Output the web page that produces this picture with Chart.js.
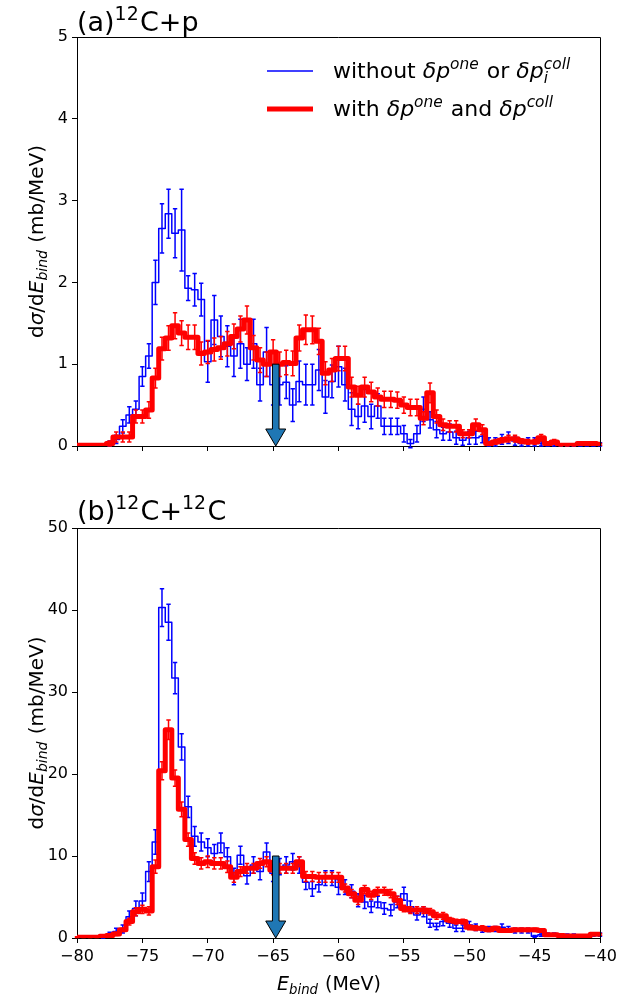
<!DOCTYPE html>
<html><head><meta charset="utf-8">
<script src="https://cdn.jsdelivr.net/npm/chart.js@4.4.1/dist/chart.umd.min.js"></script>
<style>
html,body{margin:0;padding:0;background:#fff;}
#wrap{position:relative;width:644px;height:998px;background:#fff;}
canvas{position:absolute;left:0;}
</style></head><body>
<div id="wrap">
<canvas id="ca" width="644" height="480" style="top:0"></canvas>
<canvas id="cb" width="644" height="518" style="top:480px"></canvas>
</div>
<script>
// bin centres (MeV)
const energies = [-80,-79.5,-79,-78.5,-78,-77.5,-77,-76.5,-76,-75.5,-75,-74.5,-74,-73.5,-73,-72.5,-72,-71.5,-71,-70.5,
 -70,-69.5,-69,-68.5,-68,-67.5,-67,-66.5,-66,-65.5,-65,-64.5,-64,-63.5,-63,-62.5,-62,-61.5,-61,-60.5,
 -60,-59.5,-59,-58.5,-58,-57.5,-57,-56.5,-56,-55.5,-55,-54.5,-54,-53.5,-53,-52.5,-52,-51.5,-51,-50.5,
 -50,-49.5,-49,-48.5,-48,-47.5,-47,-46.5,-46,-45.5,-45,-44.5,-44,-43.5,-43,-42.5,-42,-41.5,-41,-40.5,-40];
const xTicks = [-80,-75,-70,-65,-60,-55,-50,-45,-40];
const yTicksA = [0,1,2,3,4,5];
const yTicksB = [0,10,20,30,40,50];
const arrowE = -64.8;

// (a) 12C+p
const blueA = [0,0,0,0,0, 0.03,0.08,0.24,0.38,0.45, 0.85,1.1,2.0,2.66,2.84, 2.6,2.64,1.93,1.91,1.79,
 1.03,1.54,1.34,1.22,1.1, 1.25,1.0,1.25,0.75,1.15, 0.75,0.75,0.78,0.5,0.79, 0.75,0.75,0.93,0.6,0.79,
 0.97,0.75,0.45,0.36,0.49, 0.36,0.49,0.24,0.24,0.24, 0.15,0.03,0.15,0.45,0.32, 0.2,0.15,0.17,0.1,0.07,
 0.1,0.1,0.12,0.05,0.05, 0.08,0.1,0.06,0.03,0.05, 0.05,0.03,0.02,0.02,0.01, 0.01,0.01,0.02,0.02,0.02,0.02];
const blueAErr = [0,0,0,0,0, 0.03,0.05,0.08,0.1,0.1, 0.12,0.15,0.27,0.3,0.3, 0.3,0.5,0.15,0.2,0.2,
 0.25,0.3,0.25,0.25,0.25, 0.3,0.2,0.3,0.2,0.3, 0.25,0.25,0.2,0.2,0.25, 0.25,0.25,0.25,0.2,0.2,
 0.25,0.2,0.2,0.15,0.2, 0.15,0.15,0.1,0.1,0.1, 0.1,0.05,0.1,0.15,0.1, 0.1,0.08,0.1,0.08,0.06,
 0.08,0.08,0.08,0.05,0.05, 0.06,0.07,0.05,0.03,0.05, 0.05,0.03,0.02,0.02,0.01, 0.01,0.01,0.02,0.02,0.02,0.02];
const redA = [0.01,0.01,0.01,0.01,0.01, 0.03,0.11,0.11,0.11,0.36, 0.36,0.44,0.83,1.19,1.32, 1.47,1.38,1.33,1.33,1.13,
 1.15,1.18,1.2,1.25,1.34, 1.43,1.54,1.2,1.05,1.0, 1.15,1.0,1.02,1.01,1.32, 1.42,1.42,1.28,0.89,0.93,
 1.07,1.07,0.72,0.62,0.72, 0.66,0.6,0.57,0.57,0.56, 0.5,0.47,0.47,0.34,0.65, 0.36,0.26,0.24,0.24,0.15,
 0.15,0.26,0.2,0.03,0.05, 0.07,0.09,0.09,0.06,0.05, 0.05,0.1,0.03,0.05,0.01, 0.01,0.01,0.03,0.03,0.03,0.02];
const redAErr = [0,0,0,0,0, 0.03,0.06,0.06,0.06,0.08, 0.08,0.1,0.12,0.14,0.15, 0.16,0.15,0.15,0.15,0.14,
 0.14,0.14,0.14,0.15,0.15, 0.16,0.17,0.15,0.15,0.15, 0.15,0.15,0.15,0.15,0.16, 0.18,0.17,0.16,0.14,0.14,
 0.15,0.15,0.12,0.11,0.12, 0.12,0.11,0.1,0.1,0.1, 0.1,0.1,0.1,0.08,0.12, 0.08,0.07,0.07,0.07,0.05,
 0.05,0.07,0.06,0.02,0.03, 0.03,0.04,0.04,0.03,0.03, 0.03,0.04,0.02,0.03,0.01, 0.01,0.01,0.02,0.02,0.02,0.01];

// (b) 12C+12C
const blueB = [0,0,0,0,0.2, 0.4,0.8,1.1,2.6,3.6, 4.5,8.1,11.7,40.3,38.5, 31.7,23.3,16.0,12.4,11.7,
 11.0,10.3,11.6,9.9,7.5, 10.1,7.6,8.9,8.1,10.5, 7.9,8.7,8.9,9.3,8.9, 6.8,6.0,6.5,7.3,7.3,
 6.2,6.2,5.7,4.6,4.4, 3.8,4.4,3.6,3.4,4.4, 5.4,3.8,2.8,3.2,1.8, 1.4,2.0,1.8,1.2,1.2,
 1.6,1.3,1.0,1.1,1.1, 1.3,1.1,0.9,0.9,0.9, 0.2,0.4,0.4,0.4,0.3, 0.3,0.3,0.2,0.2,0.4,0.4];
const blueBErr = [0,0,0,0,0.2, 0.3,0.4,0.5,0.7,0.9, 1.0,1.2,1.5,2.3,2.2, 1.9,1.6,1.3,1.2,1.1,
 1.1,1.1,1.2,1.1,1.0, 1.1,1.0,1.0,1.0,1.1, 1.0,1.0,1.0,1.0,1.0, 0.9,0.9,0.9,0.9,0.9,
 0.9,0.9,0.8,0.8,0.8, 0.7,0.7,0.7,0.7,0.7, 0.8,0.7,0.6,0.6,0.5, 0.4,0.5,0.5,0.4,0.4,
 0.4,0.4,0.3,0.3,0.3, 0.4,0.3,0.3,0.3,0.3, 0.1,0.2,0.2,0.2,0.2, 0.2,0.2,0.1,0.1,0.2,0.2];
const redB = [0.1,0.1,0.1,0.1,0.2, 0.3,0.5,1.0,2.0,3.2, 3.5,3.3,8.7,20.4,25.4, 19.5,15.7,12.0,9.7,9.1,
 9.3,9.1,9.1,8.7,7.4, 8.1,8.5,8.5,9.1,9.3, 8.3,8.5,8.5,8.5,9.3, 7.5,7.5,7.4,7.4,7.4,
 7.4,6.1,5.4,4.6,5.9, 5.2,5.7,5.7,5.4,4.6, 3.6,3.4,3.4,3.4,3.2, 2.7,2.7,2.2,2.0,2.0,
 1.3,1.2,1.2,1.0,1.2, 0.9,0.9,1.0,1.0,1.0, 1.0,0.9,0.4,0.4,0.3, 0.25,0.25,0.25,0.25,0.45,0.45];
const redBErr = [0.05,0.05,0.05,0.05,0.1, 0.15,0.2,0.2,0.4,0.5, 0.5,0.5,0.8,1.1,1.2, 1.0,0.9,0.8,0.7,0.7,
 0.7,0.7,0.7,0.7,0.6, 0.6,0.6,0.6,0.6,0.6, 0.6,0.6,0.6,0.6,0.6, 0.6,0.6,0.6,0.6,0.6,
 0.6,0.5,0.5,0.5,0.5, 0.5,0.5,0.5,0.5,0.5, 0.4,0.4,0.4,0.4,0.4, 0.4,0.4,0.3,0.3,0.3,
 0.3,0.3,0.3,0.2,0.2, 0.2,0.2,0.2,0.2,0.2, 0.2,0.2,0.1,0.1,0.1, 0.1,0.1,0.1,0.1,0.1,0.1];

const FONT = '"DejaVu Sans"';
function rich(ctx, segs, x0, y0, size, draw) {
  let x = x0;
  for (const s of segs) {
    if (s.t !== undefined) {
      ctx.font = (s.it ? 'italic ' : '') + size + 'px ' + FONT;
      if (draw) ctx.fillText(s.t, x, y0);
      x += ctx.measureText(s.t).width;
    } else {
      const ss = size * 0.7;
      ctx.font = (s.rm ? '' : 'italic ') + ss + 'px ' + FONT;
      let w = 0;
      if (s.sup) { if (draw) ctx.fillText(s.sup, x, y0 - size * 0.42); w = Math.max(w, ctx.measureText(s.sup).width); }
      if (s.sub) { if (draw) ctx.fillText(s.sub, x, y0 + size * 0.22); w = Math.max(w, ctx.measureText(s.sub).width); }
      x += w + size * 0.05;
    }
  }
  return x - x0;
}

const errorBars = {
  id: 'errorBars',
  afterDatasetDraw(chart, args) {
    const ds = chart.data.datasets[args.index];
    if (!ds.errs) return;
    const ctx = chart.ctx, xs = chart.scales.x, ys = chart.scales.y;
    ctx.save();
    ctx.strokeStyle = ds.borderColor;
    ctx.lineWidth = 1.5;
    ds.data.forEach((p, i) => {
      const e = ds.errs[i];
      if (!e) return;
      const px = xs.getPixelForValue(p.x);
      if (px < chart.chartArea.left - 1 || px > chart.chartArea.right + 1) return;
      const y1 = ys.getPixelForValue(p.y - e), y2 = ys.getPixelForValue(p.y + e);
      ctx.beginPath();
      ctx.moveTo(px, y1); ctx.lineTo(px, y2);
      ctx.moveTo(px - 2.2, y1); ctx.lineTo(px + 2.2, y1);
      ctx.moveTo(px - 2.2, y2); ctx.lineTo(px + 2.2, y2);
      ctx.stroke();
    });
    ctx.restore();
  }
};

const decor = {
  id: 'decor',
  afterDatasetsDraw(chart, args, o) {
    const ctx = chart.ctx, xs = chart.scales.x, ys = chart.scales.y;
    const xp = xs.getPixelForValue(arrowE);
    const yTop = ys.getPixelForValue(o.arrowTop), yTip = ys.getPixelForValue(0);
    const sh = 3.3, hh = 10, hl = 17;
    ctx.save();
    ctx.beginPath();
    ctx.moveTo(xp - sh, yTop); ctx.lineTo(xp + sh, yTop); ctx.lineTo(xp + sh, yTip - hl);
    ctx.lineTo(xp + hh, yTip - hl); ctx.lineTo(xp, yTip); ctx.lineTo(xp - hh, yTip - hl);
    ctx.lineTo(xp - sh, yTip - hl); ctx.closePath();
    ctx.fillStyle = '#1f77b4'; ctx.fill();
    ctx.strokeStyle = '#000'; ctx.lineWidth = 1; ctx.stroke();
    ctx.restore();
  },
  afterDraw(chart, args, o) {
    const ctx = chart.ctx, a = chart.chartArea;
    ctx.save();
    ctx.strokeStyle = '#000'; ctx.lineWidth = 1;
    ctx.beginPath();
    ctx.moveTo(a.left, a.top + 0.5); ctx.lineTo(a.right + 0.5, a.top + 0.5); ctx.lineTo(a.right + 0.5, a.bottom);
    ctx.stroke();
    ctx.fillStyle = '#000'; ctx.textBaseline = 'alphabetic';
    rich(ctx, o.title, 77, o.titleY, 27, true);
    const ylab = [{t:'d'},{t:'σ',it:true},{t:'/d'},{t:'E',it:true},{sub:'bind'},{t:' (mb/MeV)'}];
    const wy = rich(ctx, ylab, 0, 0, 20, false);
    ctx.save();
    ctx.translate(43, (a.top + a.bottom) / 2);
    ctx.rotate(-Math.PI / 2);
    rich(ctx, ylab, -wy / 2, 0, 20, true);
    ctx.restore();
    if (o.legend) {
      ctx.lineCap = 'butt';
      ctx.strokeStyle = '#0000ff'; ctx.lineWidth = 1.5;
      ctx.beginPath(); ctx.moveTo(267, 71); ctx.lineTo(313, 71); ctx.stroke();
      ctx.strokeStyle = '#ff0000'; ctx.lineWidth = 5;
      ctx.beginPath(); ctx.moveTo(267, 109); ctx.lineTo(313, 109); ctx.stroke();
      ctx.fillStyle = '#000';
      rich(ctx, [{t:'without '},{t:'δp',it:true},{sup:'one'},{t:' or '},{t:'δp',it:true},{sup:'coll',sub:'i'}], 333, 78, 22, true);
      rich(ctx, [{t:'with '},{t:'δp',it:true},{sup:'one'},{t:' and '},{t:'δp',it:true},{sup:'coll'}], 333, 116, 22, true);
    }
    if (o.xlabel) {
      const xl = [{t:'E',it:true},{sub:'bind'},{t:' (MeV)'}];
      rich(ctx, xl, 277, o.xlabelY, 19, true);
    }
    ctx.restore();
  }
};

function fmt(v) { return v < 0 ? '\u2212' + Math.abs(v) : String(v); }

function makePanel(id, o) {
  const mk = (vals, errs, color, bw, ord) => ({
    data: energies.map((e, i) => ({ x: e, y: vals[i] })),
    errs: errs, borderColor: color, backgroundColor: color, borderWidth: bw,
    stepped: 'middle', pointRadius: 0, pointHoverRadius: 0, fill: false, order: ord,
    borderJoinStyle: 'round'
  });
  return new Chart(document.getElementById(id), {
    type: 'line',
    data: { datasets: [
      mk(o.blue, o.blueErr, '#0000ff', 1.5, 2),
      mk(o.red, o.redErr, '#ff0000', 5, 1)
    ] },
    plugins: [errorBars, decor],
    options: {
      responsive: false, animation: false, events: [],
      layout: { padding: { top: o.padTop, right: 44, left: 0, bottom: 0 } },
      plugins: { legend: { display: false }, tooltip: { enabled: false },
        decor: { arrowTop: o.arrowTop, title: o.title, titleY: o.titleY, legend: o.legend, xlabel: o.xlabel, xlabelY: o.xlabelY } },
      scales: {
        x: { type: 'linear', min: -80, max: -40,
          afterBuildTicks: s => { s.ticks = xTicks.map(v => ({ value: v })); },
          afterFit: s => { s.height = o.xH; },
          ticks: { display: o.xlabel, callback: fmt, color: '#000', font: { family: 'DejaVu Sans', size: 16 }, padding: 4, maxRotation: 0 },
          grid: { drawOnChartArea: false, drawTicks: true, tickLength: 5, color: '#000', lineWidth: 1 },
          border: { display: true, color: '#000', width: 1 } },
        y: { type: 'linear', min: 0, max: o.yMax,
          afterBuildTicks: s => { s.ticks = o.yTicks.map(v => ({ value: v })); },
          afterFit: s => { s.width = 77; },
          ticks: { callback: fmt, color: '#000', font: { family: 'DejaVu Sans', size: 16 }, padding: 4 },
          grid: { drawOnChartArea: false, drawTicks: true, tickLength: 5, color: '#000', lineWidth: 1 },
          border: { display: true, color: '#000', width: 1 } }
      }
    }
  });
}

makePanel('ca', { blue: blueA, blueErr: blueAErr, red: redA, redErr: redAErr, yMax: 5, yTicks: yTicksA,
  padTop: 37, xH: 34, arrowTop: 1.0, title: [{t:'(a)'},{sup:'12',rm:true},{t:'C+p'}], titleY: 31, legend: true, xlabel: false });
makePanel('cb', { blue: blueB, blueErr: blueBErr, red: redB, redErr: redBErr, yMax: 50, yTicks: yTicksB,
  padTop: 48, xH: 60, arrowTop: 10, title: [{t:'(b)'},{sup:'12',rm:true},{t:'C+'},{sup:'12',rm:true},{t:'C'}], titleY: 40, legend: false, xlabel: true, xlabelY: 510 });
</script>
</body></html>
